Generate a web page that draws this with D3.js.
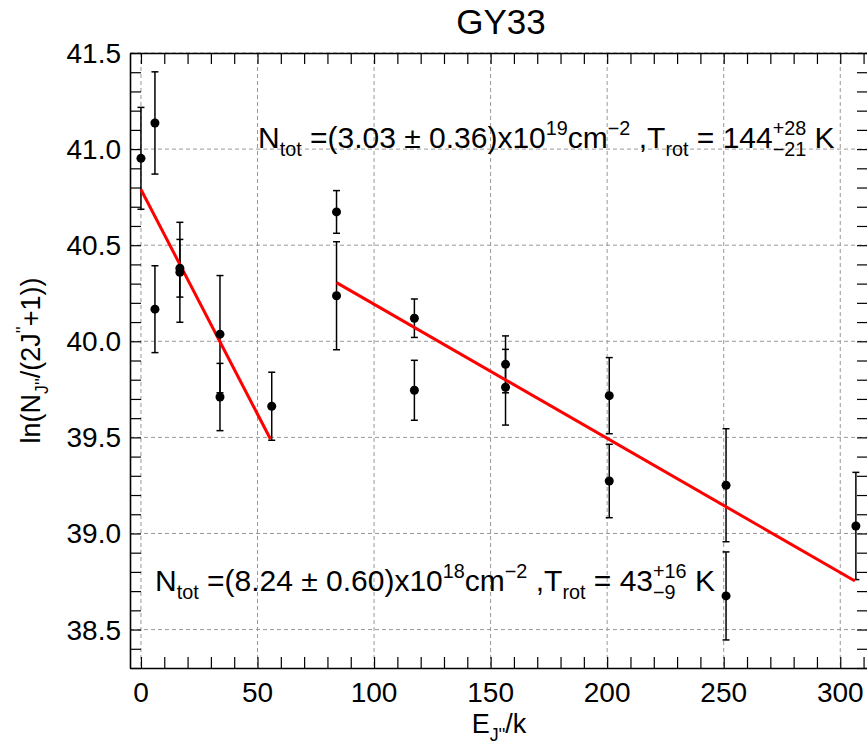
<!DOCTYPE html>
<html>
<head>
<meta charset="utf-8">
<script src="https://cdn.jsdelivr.net/npm/d3@7"></script>
<style>
  body { margin: 0; background: #fff; }
  svg { display: block; }
  text { font-family: "Liberation Sans", Arial, Helvetica, sans-serif; fill: #000; white-space: pre; }
</style>
</head>
<body>
<svg id="chart" width="867" height="745"></svg>
<script>
// upper-level energies E_J''/k (K)
const energy = [0, 6, 6, 16.7, 16.7, 33.9, 33.9, 56.1, 83.9, 83.9, 117.3, 117.3, 156.4, 156.4, 200.9, 200.9, 251, 251, 306.7];
// ln(N_J''/(2J''+1))
const lnN = [40.952, 41.136, 40.167, 40.380, 40.359, 40.037, 39.710, 39.662, 40.673, 40.237, 40.120, 39.745, 39.880, 39.761, 39.717, 39.273, 39.251, 38.675, 39.039];
const lnErr = [0.265, 0.266, 0.226, 0.15, 0.26, 0.305, 0.175, 0.177, 0.111, 0.281, 0.10, 0.156, 0.148, 0.197, 0.198, 0.191, 0.294, 0.229, 0.279];

// the two rotation-diagram fits
const fitCold = { x: [0, 55.6], y: [40.79, 39.49] };
const fitWarm = { x: [83.9, 306.3], y: [40.305, 38.753] };

const xTicks = [0, 50, 100, 150, 200, 250, 300];
const yTicks = [38.5, 39.0, 39.5, 40.0, 40.5, 41.0, 41.5];

const svg = d3.select("#chart");
const pLeft = 130, pRight = 868, pTop = 53, pBottom = 668;

const x = d3.scaleLinear().domain([-4.7, 311.9]).range([pLeft, pRight]);
const y = d3.scaleLinear().domain([38.3, 41.5]).range([pBottom, pTop]);

const xMinor = d3.range(0, 311, 10);
const yMinor = d3.range(383, 416, 1).map(d => d / 10);

// lays out text with sub / superscripts piece by piece
function richText(g, x0, y0, parts, size) {
  let cx = x0;
  const small = size * 0.66;
  parts.forEach(p => {
    if (p.k === "stack") {
      const a = g.append("text").attr("x", cx).attr("y", y0 - size * 0.42).attr("font-size", small).text(p.t[0]);
      const b = g.append("text").attr("x", cx).attr("y", y0 + size * 0.28).attr("font-size", small).text(p.t[1]);
      cx += Math.max(a.node().getComputedTextLength(), b.node().getComputedTextLength());
    } else {
      const fs = p.k === "n" ? size : small;
      const dy = p.k === "sub" ? size * 0.28 : p.k === "sup" ? -size * 0.42 : 0;
      const t = g.append("text").attr("x", cx).attr("y", y0 + dy).attr("font-size", fs).text(p.t);
      cx += t.node().getComputedTextLength();
    }
  });
  return cx - x0;
}

// grid
const grid = svg.append("g").attr("stroke", "#999").attr("stroke-width", 1).attr("stroke-dasharray", "4,3");
grid.selectAll(".gx").data(xTicks).join("line")
  .attr("x1", d => x(d)).attr("x2", d => x(d)).attr("y1", pTop).attr("y2", pBottom);
grid.selectAll(".gy").data(yTicks).join("line")
  .attr("x1", pLeft).attr("x2", pRight).attr("y1", d => y(d)).attr("y2", d => y(d));

// axes with IDL-like ticks on all four sides
const axes = svg.append("g");
function addAxis(gen, tx, ty) {
  axes.append("g").attr("transform", `translate(${tx},${ty})`).call(gen)
    .call(a => a.select(".domain").attr("stroke-width", 1.6))
    .call(a => a.selectAll(".tick line").attr("stroke-width", 1.2))
    .call(a => a.selectAll("text").remove());
}
addAxis(d3.axisBottom(x).tickValues(xMinor).tickSize(-11).tickSizeOuter(0), 0, pBottom);
addAxis(d3.axisTop(x).tickValues(xMinor).tickSize(-11).tickSizeOuter(0), 0, pTop);
addAxis(d3.axisLeft(y).tickValues(yMinor).tickSize(-11).tickSizeOuter(0), pLeft, 0);
addAxis(d3.axisRight(y).tickValues(yMinor).tickSize(-11).tickSizeOuter(0), pRight, 0);

// tick labels
const labels = svg.append("g").attr("font-size", 28);
labels.selectAll(".xl").data(xTicks).join("text")
  .attr("x", d => x(d)).attr("y", 702).attr("text-anchor", "middle").text(d => d);
labels.selectAll(".yl").data(yTicks).join("text")
  .attr("x", pLeft - 9).attr("y", d => y(d) + 10).attr("text-anchor", "end").text(d => d.toFixed(1));

// error bars
const eb = svg.append("g").attr("stroke", "#000").attr("stroke-width", 1.5);
const idx = d3.range(energy.length);
eb.selectAll(".v").data(idx).join("line")
  .attr("x1", i => x(energy[i])).attr("x2", i => x(energy[i]))
  .attr("y1", i => y(lnN[i] - lnErr[i])).attr("y2", i => y(lnN[i] + lnErr[i]));
eb.selectAll(".ct").data(idx).join("line")
  .attr("x1", i => x(energy[i]) - 3.5).attr("x2", i => x(energy[i]) + 3.5)
  .attr("y1", i => y(lnN[i] + lnErr[i])).attr("y2", i => y(lnN[i] + lnErr[i]));
eb.selectAll(".cb").data(idx).join("line")
  .attr("x1", i => x(energy[i]) - 3.5).attr("x2", i => x(energy[i]) + 3.5)
  .attr("y1", i => y(lnN[i] - lnErr[i])).attr("y2", i => y(lnN[i] - lnErr[i]));

// fits
const line = d3.line().x(d => x(d[0])).y(d => y(d[1]));
[fitCold, fitWarm].forEach(f => {
  svg.append("path").datum(f.x.map((v, i) => [v, f.y[i]]))
    .attr("d", line).attr("fill", "none").attr("stroke", "#ff0000").attr("stroke-width", 3);
});

// points
svg.append("g").selectAll("circle").data(idx).join("circle")
  .attr("cx", i => x(energy[i])).attr("cy", i => y(lnN[i])).attr("r", 4.5).attr("fill", "#000");

// title
svg.append("text").attr("x", 501).attr("y", 34).attr("text-anchor", "middle").attr("font-size", 35).text("GY33");

// annotations
richText(svg.append("g"), 258, 148, [
  { t: "N", k: "n" }, { t: "tot", k: "sub" }, { t: " =(3.03 \u00b1 0.36)x10", k: "n" }, { t: "19", k: "sup" },
  { t: "cm", k: "n" }, { t: "\u22122", k: "sup" }, { t: " ,T", k: "n" }, { t: "rot", k: "sub" },
  { t: " = 144", k: "n" }, { t: ["+28", "\u221221"], k: "stack" }, { t: " K", k: "n" }
], 30);
richText(svg.append("g"), 155, 591, [
  { t: "N", k: "n" }, { t: "tot", k: "sub" }, { t: " =(8.24 \u00b1 0.60)x10", k: "n" }, { t: "18", k: "sup" },
  { t: "cm", k: "n" }, { t: "\u22122", k: "sup" }, { t: " ,T", k: "n" }, { t: "rot", k: "sub" },
  { t: " = 43", k: "n" }, { t: ["+16", "\u22129"], k: "stack" }, { t: " K", k: "n" }
], 30);

// x label
const xg = svg.append("g");
const xw = richText(xg, 0, 733, [{ t: "E", k: "n" }, { t: "J''", k: "sub" }, { t: "/k", k: "n" }], 27);
xg.attr("transform", `translate(${(pLeft + pRight) / 2 - xw / 2},0)`);

// y label
const yg = svg.append("g");
const yw = richText(yg, 0, 0, [
  { t: "ln(N", k: "n" }, { t: "J''", k: "sub" }, { t: "/(2J", k: "n" }, { t: "''", k: "sup" }, { t: "+1))", k: "n" }
], 27);
yg.attr("transform", `translate(40,${(pTop + pBottom) / 2 + yw / 2}) rotate(-90)`);
</script>
</body>
</html>
